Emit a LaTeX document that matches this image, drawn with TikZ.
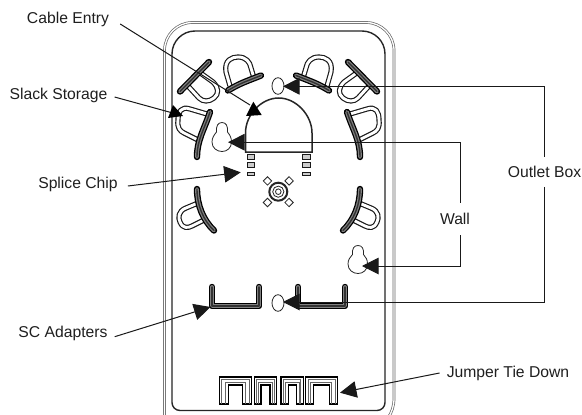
\documentclass[tikz,border=0pt]{standalone}
\usepackage{fontspec}
\setmainfont{Liberation Sans}
\usetikzlibrary{arrows.meta}
\tikzset{
  x=1pt,y=-1pt,
  lbl/.style={inner sep=0pt,font=\fontsize{15.7}{18}\selectfont,text=black!88},
  lead/.style={line width=1pt,draw=black!90},
  tip/.style={-{Triangle[length=16.5pt,width=16.5pt]}},
  hookband/.style={line width=1.15pt,double=white,double distance=2.9pt,draw=black!90,line join=round},
  hookbar/.style={line width=6.4pt,draw=black,line cap=round,line join=round,
    postaction={draw=black!50,line width=3.8pt},
    postaction={draw=black!80,line width=1.4pt}},
  thin part/.style={line width=0.8pt,draw=black!85},
  shell/.style={line width=0.7pt,double=white,double distance=1.3pt,draw=black!60},
  wallline/.style={line width=1.4pt,draw=black!85},
  chipmark/.style={line width=0.8pt,draw=black!90,fill=black!20}
}
\newcommand{\hookset}{%
  % top outer hook
  \draw[hookband] (199,72) -- (213,82) .. controls (219,88) and (219,94) .. (214,98) .. controls (209,102) and (203,102) .. (199,98) -- (188,86);
  \draw[hookbar] (180,91.5) -- (209,62);
  % top inner hook
  \draw[hookband] (230,86) -- (226,72) .. controls (224,60) and (232,57) .. (238,57) .. controls (246,57) and (250,62) .. (251,68) -- (254,78);
  \draw[hookbar] (228,90.5) .. controls (240,83) and (250,80) .. (261,75.5);
  % middle hook
  \draw[hookband] (207,114) -- (190,109) .. controls (181,106) and (178,112) .. (178,120) .. controls (177,128) and (180,131) .. (184,133) -- (200,141);
  \draw[hookbar] (210,112) .. controls (204,130) and (197,140) .. (197,157);
  % lower hook
  \draw[hookband] (198,203) -- (186,208) .. controls (178,211) and (178,218) .. (180,222) .. controls (183,229) and (188,228) .. (192,226) -- (206,219);
  \draw[hookbar] (197,189) .. controls (197,205) and (203,220) .. (214,230.5);
  % chip marks
  \foreach \cy/\ch in {156.7/5,165/5,173.5/3}
    \draw[chipmark] (247,\cy-\ch/2) rectangle (254.5,\cy+\ch/2);
}
\begin{document}
\begin{tikzpicture}
\clip (0,0) rectangle (582,415);
\fill[white] (0,0) rectangle (582,415);
% shell
\draw[shell] (164.5,430) -- (164.5,398) [rounded corners=28pt] -- (164.5,22.5) -- (394,22.5) [sharp corners] -- (394,398) .. controls (394,406) and (392,412) .. (388,418);
\draw[wallline] (172,400) [rounded corners=23pt] -- (172,31) -- (385,31) [rounded corners=8pt] -- (385,410.5) -- (172,410.5) -- (172,380);
% mirrored hardware
\hookset
\begin{scope}[xshift=557pt,xscale=-1]
\hookset
\end{scope}
% dome
\coordinate (domeL) at (245.5,152);
\coordinate (domeR) at (312,152);
\draw[line width=1.5pt,draw=black!85] (domeL) -- (245.5,133) .. controls (245.5,115) and (261,98) .. (278.7,98) .. controls (296,98) and (312,115) .. (312,133) -- (domeR) -- cycle;
% centre boss
\foreach \sx/\sy in {-1/-1,1/-1,-1/1,1/1}
  \draw[thin part,fill=white,shift={(278.3+\sx*10.8,191.7+\sy*10.8)}] (-4.2,0) -- (0,-4.2) -- (4.2,0) -- (0,4.2) -- cycle;
\draw[line width=2pt,draw=black!85,fill=white] (278.3,191.7) circle (9);
\draw[line width=0.8pt,draw=black!85] (278.3,191.7) circle (5.6);
\draw[line width=0.8pt,draw=black!85] (278.3,191.7) circle (2.8);
% eggs
\draw[thin part] (278,86) ellipse (6 and 8.3);
\draw[thin part] (278,303) ellipse (6 and 8.3);
% keyholes
\draw[thin part] (216.5,132) .. controls (216,126) and (218,122.5) .. (222,122.5) .. controls (226,122.5) and (228,126) .. (227.5,132) .. controls (230,135) and (231.5,138) .. (231.5,142) .. controls (231.5,148) and (227,151.5) .. (222,151.5) .. controls (217,151.5) and (212,148) .. (212,142) .. controls (212,138) and (214,135) .. (216.5,132) -- cycle;
\draw[thin part] (352.5,254.5) .. controls (352,248.5) and (354,245.5) .. (358,245.5) .. controls (362,245.5) and (364,248.5) .. (363.5,254.5) .. controls (366,257) and (367.5,260) .. (367.5,264) .. controls (367.5,270) and (363,273.5) .. (358,273.5) .. controls (353,273.5) and (348,270) .. (348,264) .. controls (348,260) and (350,257) .. (352.5,254.5) -- cycle;
% SC adapters
\draw[hookbar] (212,287) -- (212,306) -- (259,306) -- (259,287);
\draw[hookbar] (298,287) -- (298,306) -- (345,306) -- (345,287);
% tie down
\foreach \a/\b/\c/\d in {219.5/228.3/242.7/251.7,254.3/261/270/276.7,281/288.3/296.7/303.3,305.7/313.3/329.3/337.7}{
  \draw[line width=1.1pt,draw=black,fill=white,line join=miter] (\a,404) -- (\a,377) -- (\d,377) -- (\d,404) -- (\c,404) -- (\c,385) -- (\b,385) -- (\b,404) -- cycle;
  \draw[line width=0.9pt,draw=black!60] (\a+2.4,404) -- (\a+2.4,379.4) -- (\d-2.4,379.4) -- (\d-2.4,404);
  \draw[line width=0.9pt,draw=black!60] (\b-2.4,404) -- (\b-2.4,382.6) -- (\c+2.4,382.6) -- (\c+2.4,404);
}
% labels
\node[lbl] (cable) at (68,19.5) {Cable Entry};
\node[lbl] (slack) at (58.5,95) {Slack Storage};
\node[lbl] (splice) at (78,184) {Splice Chip};
\node[lbl] (sc) at (63,333.5) {SC Adapters};
\node[lbl] (jumper) at (508,373) {Jumper Tie Down};
\node[lbl,minimum height=29.5pt] (outlet) at (544.5,171.8) {Outlet Box};
\node[lbl,minimum height=32pt] (wall) at (455,219) {Wall};
% targets
\coordinate (cableEnd) at (250,105);
\coordinate (cableA) at (253.3,101.7);
\coordinate (cableB) at (246,116);
\coordinate (cableC) at (261.7,115);
\coordinate (slackEnd) at (180,115);
\coordinate (slackA) at (173,105);
\coordinate (slackB) at (168,118);
\coordinate (slackC) at (183,116);
\coordinate (spliceTip) at (240.7,172.3);
\coordinate (scTip) at (210.5,307);
\coordinate (jumperTip) at (340,392.7);
\coordinate (boxTop) at (283,86.3);
\coordinate (boxBot) at (283,302);
\coordinate (wallTop) at (228,142.2);
\coordinate (wallBot) at (362,266);
\coordinate (wallX) at (460.7,219);
% connectors
\draw[lead] (cable.east)++(11,4.5) -- (cableEnd);
\fill[black] (cableA) -- (cableB) -- (cableC) -- cycle;
\draw[lead] (slack.east)++(7,2) -- (slackEnd);
\fill[black] (slackA) -- (slackB) -- (slackC) -- cycle;
\draw[lead,tip] (splice.east)++(10,2) -- (spliceTip);
\draw[lead,tip] (sc.east)++(7,3.2) -- (scTip);
\draw[lead,tip] (jumper.west)++(-7,0) -- (jumperTip);
\draw[lead,tip] (outlet.north) |- (boxTop);
\draw[lead,tip] (outlet.south) |- (boxBot);
\draw[lead,tip] (wall.north -| wallX) |- (wallTop);
\draw[lead,tip] (wall.south -| wallX) |- (wallBot);
\end{tikzpicture}
\end{document}
